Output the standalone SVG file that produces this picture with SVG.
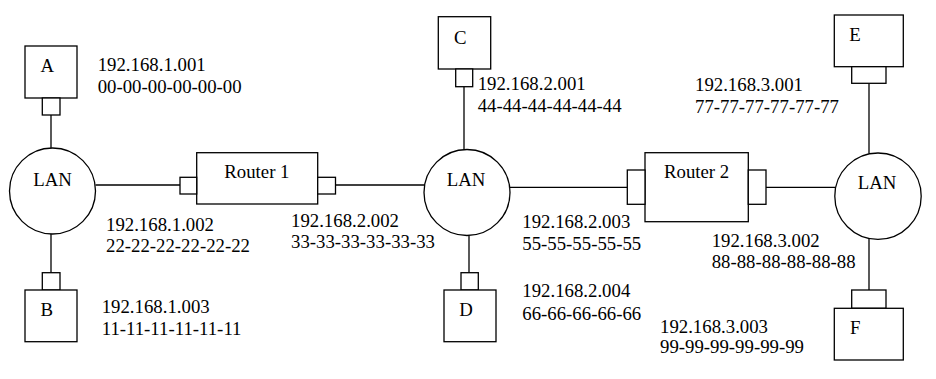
<svg xmlns="http://www.w3.org/2000/svg" width="936" height="379" viewBox="0 0 936 379">
<style>
.s{fill:#fff;stroke:#000;stroke-width:1.3}
.l{stroke:#000;stroke-width:1.3;fill:none}
text{font-family:"Liberation Serif","Times New Roman",serif;font-size:18.8px;fill:#000}
</style>
<rect width="936" height="379" fill="#fff"/>
<g id="connectors">
<line class="l" x1="51" y1="115" x2="51" y2="148"/>
<line class="l" x1="51" y1="234" x2="51" y2="272.7"/>
<line class="l" x1="95.5" y1="185" x2="180" y2="185"/>
<line class="l" x1="335.5" y1="185" x2="424.5" y2="185"/>
<line class="l" x1="464" y1="86.7" x2="464" y2="149.5"/>
<line class="l" x1="469" y1="235.5" x2="469" y2="272.7"/>
<line class="l" x1="510" y1="187.3" x2="627.3" y2="187.3"/>
<line class="l" x1="766" y1="187.3" x2="835" y2="187.3"/>
<line class="l" x1="869" y1="83.3" x2="869" y2="153.5"/>
<line class="l" x1="869" y1="239" x2="869" y2="290"/>
</g>
<g id="lan1">
<circle class="s" cx="52.5" cy="191" r="43"/>
<text x="52.5" y="186" text-anchor="middle">LAN</text>
</g>
<g id="lan2">
<circle class="s" cx="467" cy="192.5" r="43"/>
<text x="466" y="186" text-anchor="middle">LAN</text>
</g>
<g id="lan3">
<circle class="s" cx="878" cy="196.2" r="43.2"/>
<text x="877" y="188.5" text-anchor="middle">LAN</text>
</g>
<g id="A">
<rect class="s" x="25" y="46" width="52" height="52"/>
<rect class="s" x="42.3" y="98" width="17.7" height="17"/>
<text x="40.5" y="71.5">A</text>
</g>
<g id="B">
<rect class="s" x="42.3" y="272.7" width="17.7" height="17.3"/>
<rect class="s" x="25" y="290" width="52" height="51.7"/>
<text x="40.5" y="315.5">B</text>
</g>
<g id="C">
<rect class="s" x="438.3" y="16.7" width="52.4" height="52.3"/>
<rect class="s" x="455.7" y="69" width="17" height="17.7"/>
<text x="454" y="43.5">C</text>
</g>
<g id="D">
<rect class="s" x="461" y="272.7" width="17.3" height="17.3"/>
<rect class="s" x="444" y="290" width="52" height="51.7"/>
<text x="459.3" y="315.5">D</text>
</g>
<g id="E">
<rect class="s" x="834.3" y="15" width="69" height="51.7"/>
<rect class="s" x="851.7" y="66.7" width="34.3" height="16.6"/>
<text x="849.3" y="41">E</text>
</g>
<g id="F">
<rect class="s" x="851.7" y="290" width="34.3" height="18.3"/>
<rect class="s" x="834.3" y="308.3" width="69" height="51.7"/>
<text x="850" y="333.5">F</text>
</g>
<g id="router1">
<rect class="s" x="196.7" y="152.7" width="121" height="51.3"/>
<rect class="s" x="180" y="177.3" width="16.7" height="16.7"/>
<rect class="s" x="317.7" y="177.3" width="17.8" height="16.7"/>
<text x="224.3" y="178.3">Router 1</text>
</g>
<g id="router2">
<rect class="s" x="645" y="152.7" width="103.3" height="69"/>
<rect class="s" x="627.3" y="170" width="17.7" height="34.3"/>
<rect class="s" x="748.3" y="170" width="17.7" height="34.3"/>
<text x="664" y="178.3">Router 2</text>
</g>
<g id="labels">
<text x="97.7" y="70.7">192.168.1.001</text>
<text x="97.7" y="92.7">00-00-00-00-00-00</text>
<text x="106" y="231">192.168.1.002</text>
<text x="106" y="252.3">22-22-22-22-22-22</text>
<text x="101.7" y="313.3">192.168.1.003</text>
<text x="101.7" y="335">11-11-11-11-11-11</text>
<text x="477.7" y="90">192.168.2.001</text>
<text x="477.7" y="112.3">44-44-44-44-44-44</text>
<text x="291" y="226.7">192.168.2.002</text>
<text x="291" y="248.3">33-33-33-33-33-33</text>
<text x="522.3" y="228.3">192.168.2.003</text>
<text x="522.3" y="250">55-55-55-55-55</text>
<text x="522.3" y="296.7">192.168.2.004</text>
<text x="522.3" y="320">66-66-66-66-66</text>
<text x="695" y="91">192.168.3.001</text>
<text x="695" y="113.3">77-77-77-77-77-77</text>
<text x="711.7" y="246.7">192.168.3.002</text>
<text x="711.7" y="268.3">88-88-88-88-88-88</text>
<text x="660" y="332.7">192.168.3.003</text>
<text x="660" y="353.3">99-99-99-99-99-99</text>
</g>
</svg>
